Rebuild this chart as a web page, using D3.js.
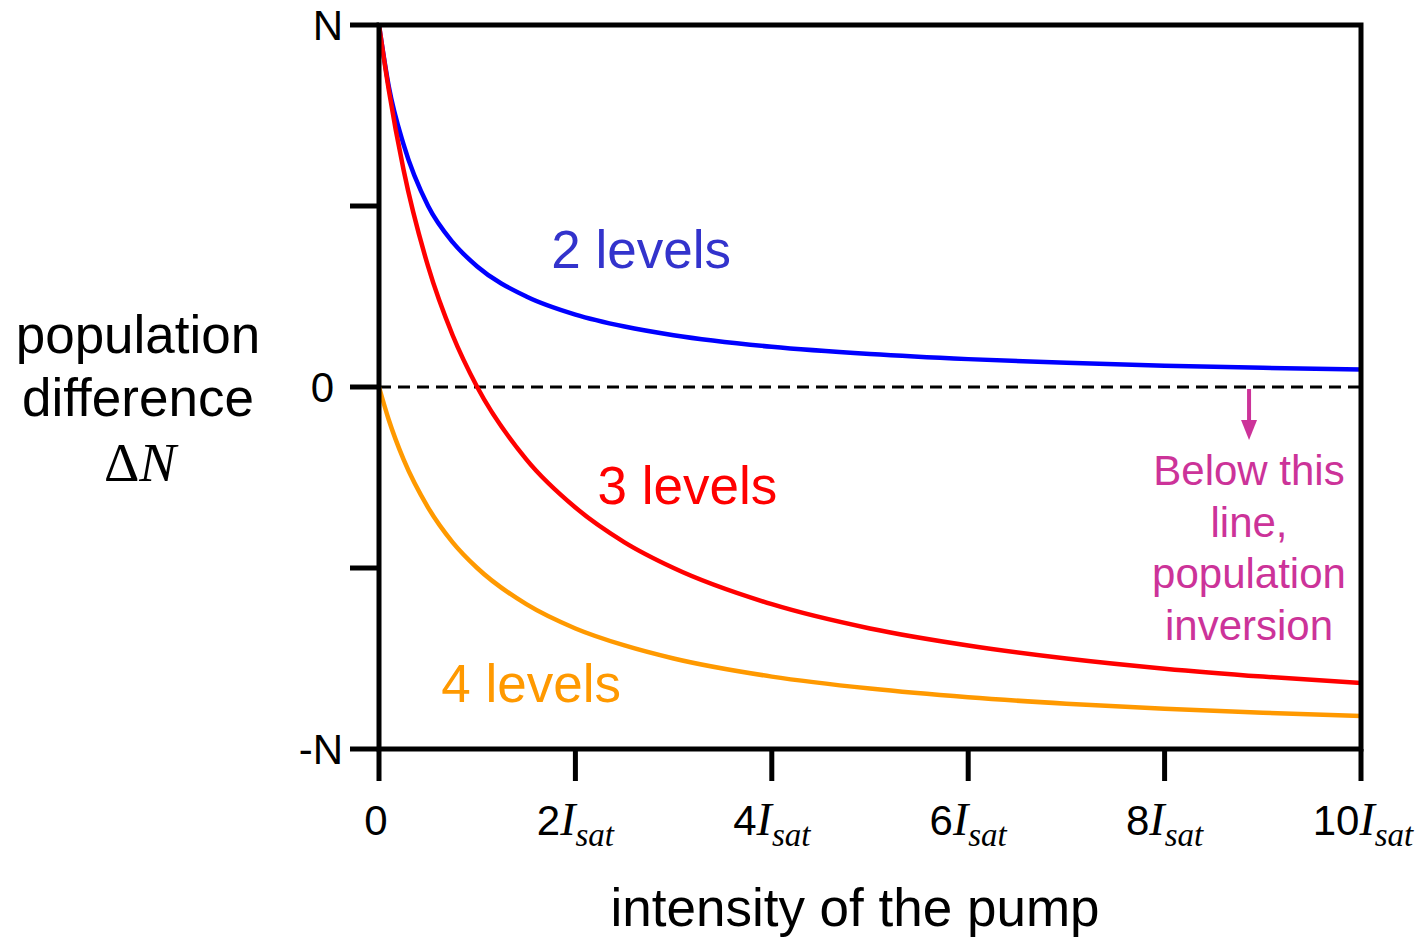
<!DOCTYPE html>
<html>
<head>
<meta charset="utf-8">
<script src="https://cdn.jsdelivr.net/npm/d3@7"></script>
<style>
  body { margin: 0; background: #fff; }
  text { font-family: "Liberation Sans", Arial, sans-serif; }
  .serif { font-family: "Liberation Serif", "Times New Roman", serif; font-style: italic; }
  .upright { font-family: "Liberation Serif", "Times New Roman", serif; font-style: normal; }
</style>
</head>
<body>
<script>
// pump intensity, in units of I_sat
const intensity = [0, 0.1, 0.25, 0.5, 0.75, 1, 1.5, 2, 2.5, 3, 4, 5, 6, 7, 8, 9, 10];
// population difference, in units of N
const twoLevels = [1, 0.83, 0.67, 0.5, 0.4, 0.333, 0.25, 0.2, 0.167, 0.143, 0.111, 0.091, 0.077, 0.067, 0.059, 0.053, 0.048];
const threeLevels = [1, 0.82, 0.6, 0.333, 0.143, 0, -0.2, -0.333, -0.429, -0.5, -0.6, -0.667, -0.714, -0.75, -0.778, -0.8, -0.818];
const fourLevels = [0, -0.091, -0.2, -0.333, -0.429, -0.5, -0.6, -0.667, -0.714, -0.75, -0.8, -0.833, -0.857, -0.875, -0.889, -0.9, -0.909];

const xTicks = [0, 2, 4, 6, 8, 10];
const yTicks = [-1, -0.5, 0, 0.5, 1];
const yTickLabels = { "1": "N", "0": "0", "-1": "-N" };

const series = [
  { name: "2 levels", values: twoLevels, color: "#0000ff", label: { x: 2.67, y: 0.329, color: "#3333cc" } },
  { name: "3 levels", values: threeLevels, color: "#ff0000", label: { x: 3.14, y: -0.323, color: "#ff0000" } },
  { name: "4 levels", values: fourLevels, color: "#ff9900", label: { x: 1.55, y: -0.87, color: "#ff9900" } }
];

const width = 1416, height = 939;
const margin = { left: 379, right: 55, top: 25, bottom: 190 };

const svg = d3.select("body").append("svg")
  .attr("width", width)
  .attr("height", height);

const x = d3.scaleLinear().domain([0, 10]).range([margin.left, width - margin.right]);
const y = d3.scaleLinear().domain([-1, 1]).range([height - margin.bottom, margin.top]);

// zero line (dashed)
svg.append("line")
  .attr("x1", x(0)).attr("x2", x(10))
  .attr("y1", y(0)).attr("y2", y(0))
  .attr("stroke", "#000")
  .attr("stroke-width", 2.8)
  .attr("stroke-dasharray", "12,7");

// curves
const line = d3.line()
  .x((d, i) => x(intensity[i]))
  .y(d => y(d))
  .curve(d3.curveMonotoneX);

series.forEach(s => {
  svg.append("path")
    .datum(s.values)
    .attr("fill", "none")
    .attr("stroke", s.color)
    .attr("stroke-width", 4.5)
    .attr("d", line);

  svg.append("text")
    .attr("x", x(s.label.x))
    .attr("y", y(s.label.y))
    .attr("text-anchor", "middle")
    .attr("font-size", 53)
    .attr("fill", s.label.color)
    .text(s.name);
});

// frame
svg.append("rect")
  .attr("x", x(0)).attr("y", y(1))
  .attr("width", x(10) - x(0))
  .attr("height", y(-1) - y(1))
  .attr("fill", "none")
  .attr("stroke", "#000")
  .attr("stroke-width", 5);

// y ticks
svg.selectAll(".ytick")
  .data(yTicks)
  .join("line")
  .attr("x1", x(0) - 29).attr("x2", x(0))
  .attr("y1", d => y(d)).attr("y2", d => y(d))
  .attr("stroke", "#000")
  .attr("stroke-width", 5);

svg.selectAll(".ylabel")
  .data(yTicks.filter(d => yTickLabels[d] !== undefined))
  .join("text")
  .attr("x", d => d === 0 ? x(0) - 45 : x(0) - 36)
  .attr("y", d => y(d))
  .attr("dy", "0.36em")
  .attr("text-anchor", "end")
  .attr("font-size", 42)
  .text(d => yTickLabels[d]);

// x ticks
svg.selectAll(".xtick")
  .data(xTicks)
  .join("line")
  .attr("x1", d => x(d)).attr("x2", d => x(d))
  .attr("y1", y(-1)).attr("y2", y(-1) + 32)
  .attr("stroke", "#000")
  .attr("stroke-width", 5);

const xl = svg.selectAll(".xlabel")
  .data(xTicks)
  .join("text")
  .attr("x", d => x(d))
  .attr("y", 835)
  .attr("text-anchor", "middle")
  .attr("font-size", 42);

xl.each(function (d) {
  const t = d3.select(this);
  if (d === 0) {
    t.text("0");
    t.attr("dx", -3);
    return;
  }
  t.append("tspan").text(d);
  t.append("tspan").attr("class", "serif").attr("font-size", 46).text("I");
  t.append("tspan").attr("class", "serif").attr("font-size", 33).attr("dy", 11).text("sat");
});
// shift the I_sat labels so the number sits near the tick
xl.filter(d => d !== 0).attr("dx", d => d === 10 ? 2 : 0);

// axis titles
svg.append("text")
  .attr("x", 855)
  .attr("y", 926)
  .attr("text-anchor", "middle")
  .attr("font-size", 53)
  .text("intensity of the pump");

const yt = svg.append("text")
  .attr("text-anchor", "middle")
  .attr("font-size", 53);
yt.append("tspan").attr("x", 138).attr("y", 353).text("population");
yt.append("tspan").attr("x", 138).attr("y", 416).text("difference");
const dn = svg.append("text")
  .attr("x", 140).attr("y", 481)
  .attr("text-anchor", "middle")
  .attr("font-size", 55);
dn.append("tspan").attr("class", "upright").text("Δ");
dn.append("tspan").attr("class", "serif").text("N");

// annotation
const pink = "#cc3399";
svg.append("line")
  .attr("x1", x(8.86)).attr("x2", x(8.86))
  .attr("y1", y(0) + 2).attr("y2", y(0) + 36)
  .attr("stroke", pink)
  .attr("stroke-width", 4);
svg.append("path")
  .attr("d", `M${x(8.86) - 8},${y(0) + 33} L${x(8.86) + 8},${y(0) + 33} L${x(8.86)},${y(0) + 53} Z`)
  .attr("fill", pink);

const note = svg.append("text")
  .attr("text-anchor", "middle")
  .attr("font-size", 42)
  .attr("fill", pink);
["Below this", "line,", "population", "inversion"].forEach((s, i) => {
  note.append("tspan").attr("x", 1249).attr("y", 485 + i * 51.7).text(s);
});
</script>
</body>
</html>
